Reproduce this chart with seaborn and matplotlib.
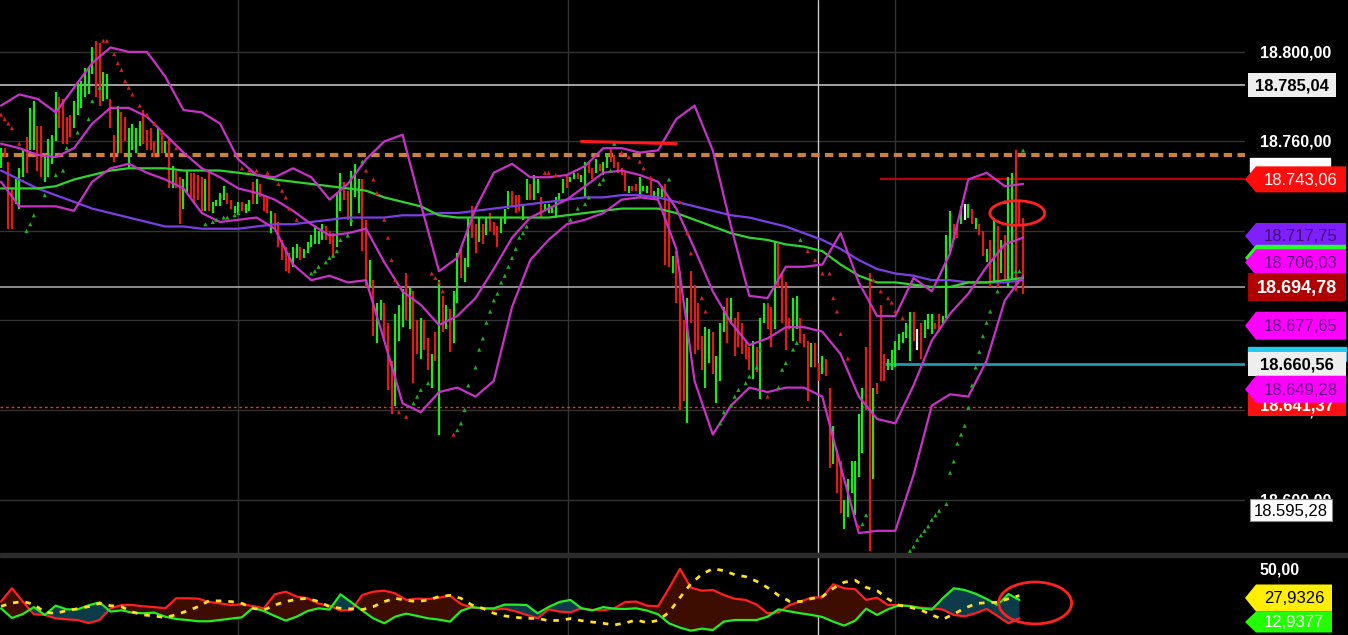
import numpy as np
import matplotlib
matplotlib.use("Agg")
import matplotlib.pyplot as plt
import seaborn as sns
from matplotlib.patches import Polygon, Rectangle, Ellipse

# ---------------- price bars ----------------
bar_high = [18757,18757,18751,18739,18743,18748,18756,18762,18775,18778,
            18767,18767,18754,18761,18763,18782,18780,18779,18771,18772,
            18778,18786,18787,18793,18793,18802,18805,18804,18791,18790,
            18779,18763,18776,18773,18771,18766,18768,18766,18769,18774,
            18765,18766,18760,18766,18765,18760,18761,18749,18747,18744,
            18743,18747,18746,18746,18745,18744,
            18743,18747,18733,18734,18737,18740,18737,18734,18731,18733,
            18733,18732,18734,18742,18743,18741,18736,18735,18729,18728,
            18724,18716,18713,18710,18713,18714,18713,18712,18715,18718,
            18722,18720,18723,18722,18720,18719,18737,18746,18742,18738,
            18747,18750,18743,18743,18725,18707,18698,18688,18689,18688,
            18679,18662,18683,18687,18694,18701,18695,18693,
            18680,18681,18680,18672,18665,18675,18698,18691,18687,18685,
            18693,18710,18713,18708,18726,18731,18723,18726,18723,18726,
            18728,18724,18722,18726,18730,18738,18738,18736,18736,18732,
            18743,18741,18745,18743,18735,18732,18732,18731,18735,18737,
            18743,18745,18744,18746,18746,18745,18751,18751,18748,18752,
            18750,18751,18755,18757,18754,18751,18748,
            18747,18740,18740,18741,18744,18740,18740,18743,18738,18739,
            18740,18741,18734,18709,18711,18702,18680,18690,18702,18696,
            18688,18673,18677,18676,18675,18664,18679,18686,18690,18690,
            18681,18684,18679,18671,18668,18671,18668,18681,18688,18688,
            18686,18715,18714,18701,18697,18681,18690,18691,18681,18674,
            18671,18670,18670,18661,
            18664,18663,18650,18633,18622,18617,18600,18609,18617,18617,
            18638,18650,18668,18701,18650,18652,18687,18665,18663,18667,
            18671,18674,18675,18679,18684,18684,18676,18679,18680,18683,
            18683,18679,18683,18682,18718,18729,18723,18722,18731,18732,
            18732,18730,18726,18723,18720,18712,18716,18726,18722,18716,
            18718,18744,18746,18756,18734,18726]
bar_low = [18748,18753,18721,18721,18732,18730,18744,18746,18756,18756,
           18747,18744,18742,18744,18750,18760,18766,18759,18759,18762,
           18766,18772,18775,18780,18781,18790,18780,18776,18778,18779,
           18766,18751,18755,18755,18760,18748,18756,18755,18758,18759,
           18756,18756,18753,18755,18755,18755,18739,18739,18739,18723,
           18730,18737,18735,18732,18734,18729,
           18729,18729,18728,18731,18731,18734,18732,18730,18728,18728,
           18729,18728,18729,18732,18732,18735,18729,18728,18719,18721,
           18713,18707,18702,18701,18704,18708,18707,18708,18710,18713,
           18714,18714,18716,18716,18714,18708,18713,18729,18734,18725,
           18722,18735,18728,18711,18695,18695,18673,18670,18680,18671,
           18649,18638,18642,18671,18677,18680,18676,18652,
           18665,18663,18667,18658,18650,18662,18629,18675,18676,18666,
           18670,18688,18699,18697,18704,18717,18710,18715,18714,18718,
           18720,18718,18713,18719,18723,18730,18731,18728,18729,18725,
           18734,18734,18734,18737,18726,18729,18728,18728,18726,18734,
           18737,18739,18742,18743,18743,18742,18735,18746,18743,18746,
           18747,18745,18748,18751,18748,18746,18745,
           18738,18737,18738,18738,18735,18738,18737,18735,18734,18734,
           18735,18705,18704,18701,18688,18640,18644,18634,18679,18665,
           18667,18658,18650,18661,18656,18643,18653,18675,18670,18679,
           18664,18668,18665,18663,18658,18654,18657,18645,18679,18676,
           18668,18676,18695,18679,18667,18676,18671,18676,18670,18668,
           18644,18659,18659,18653,
           18656,18655,18614,18616,18603,18594,18587,18592,18603,18593,
           18610,18621,18640,18577,18609,18647,18653,18653,18658,18658,
           18659,18667,18670,18672,18662,18671,18667,18663,18672,18676,
           18674,18676,18675,18679,18681,18710,18716,18717,18723,18725,
           18726,18723,18721,18718,18709,18706,18695,18697,18695,18701,
           18698,18695,18698,18693,18723,18692]
bar_dir = ("GRRRGGGRGG" "RRGGGGRRRR" "GGGGGGRRGG" "RRGRRGGGGR" "RRRGRGRGRR"
           "GGRRRRGRGG" "GGRRGGRGGR" "GRRRGRRRRR" "GGRGGGGGGR" "RRGGRRGGGR"
           "RGRGGRRRGG" "GRGRRGRRGR" "GRGRGGRGGR" "RGRGRRRGGG" "RRRGGRGGRG"
           "GGGGGRGGRG" "GRRGRGGRRR" "RRGRRGGGRG" "GGRRGRRRGR" "RRRGGRGGGR"
           "GRRRRRGRGG" "RRGRRRRGGR" "RRGRRGRRGR" "RGGGGGGRRG" "RRRGGGGGGG"
           "RWRGGGRRGG" "GRRGWGRGRR" "GRGRGRGGRR" "R")

# ---------------- overlays sampled every 5 bars ----------------
band_idx = np.arange(0, 281, 5)
bb_upper = [18776,18781,18779,18773,18784,18795,18802,18800,18800,18789,
            18774,18773,18768,18752,18745,18744,18748,18744,18734,18741,
            18752,18760,18763,18732,18702,18708,18730,18746,18750,18744,
            18744,18745,18749,18757,18757,18755,18756,18770,18776,18756,
            18722,18691,18690,18704,18704,18705,18719,18697,18682,18682,
            18699,18693,18710,18743,18746,18740,18741]
bb_middle = [18759,18757,18754,18753,18757,18768,18775,18775,18771,18763,
             18755,18748,18744,18739,18737,18734,18729,18723,18718,18719,
             18721,18706,18693,18687,18678,18682,18690,18703,18717,18726,
             18730,18734,18740,18746,18747,18745,18742,18730,18712,18693,
             18679,18669,18672,18677,18677,18675,18665,18646,18636,18634,
             18651,18671,18683,18692,18704,18714,18717]
bb_lower = [18742,18731,18731,18731,18729,18742,18748,18750,18746,18743,
            18739,18728,18724,18725,18726,18721,18705,18698,18700,18697,
            18698,18671,18643,18639,18648,18650,18646,18653,18686,18707,
            18716,18723,18725,18728,18734,18735,18734,18712,18653,18629,
            18642,18650,18648,18650,18650,18646,18615,18585,18586,18586,
            18611,18642,18647,18646,18662,18689,18700]
ma_green = [18739,18739,18739,18740,18743,18745,18747,18748,18748,18748,
            18747,18747,18747,18746,18745,18743,18742,18741,18740,18739,
            18738,18735,18733,18731,18727,18726,18726,18726,18726,18726,
            18726,18727,18728,18729,18730,18730,18730,18728,18725,18722,
            18719,18717,18716,18714,18713,18711,18705,18700,18697,18697,
            18696,18695,18695,18697,18697,18698,18699]
ma_purple = [18747,18743,18739,18736,18733,18730,18728,18726,18724,18722,
             18722,18721,18721,18721,18722,18723,18723,18724,18725,18726,
             18726,18726,18727,18727,18728,18728,18729,18730,18731,18732,
             18733,18734,18735,18735,18736,18736,18735,18733,18731,18729,
             18727,18726,18724,18722,18719,18716,18712,18707,18703,18701,
             18700,18698,18698,18697,18697,18697,18698]

# ---------------- parabolic SAR dots ----------------
sar_red_idx = [0,1,2,3,5, 28,29,31,32,33,34,35,36,38,40,42,44,46,48,
               66,68,70,73,76,77,78,79,81, 100,102,103,105,106,107,108,109,111,
               118,119,120,121,124, 149,150,152,
               170,172,175,176,178,186,188,189,192,193,210,
               221,223,225,227,228,229,230,232,235, 239,241,243,244,245,247]
sar_red = [18772,18770,18768,18766,18759, 18805,18805,18799,18795,18792,18787,18784,18781,18776,18772,18768,18764,18760,18757,
           18748,18747,18747,18746,18741,18738,18735,18730,18725, 18747,18743,18737,18725,18717,18707,18698,18639,18637,
           18701,18699,18697,18693,18629, 18746,18746,18745,
           18755,18753,18751,18748,18744,18733,18719,18710,18690,18684,18646,
           18711,18707,18701,18701,18690,18684,18674,18663,18588, 18698,18693,18690,18688,18684,18681]
sar_grn_idx = [7,8,9,12,15,17,18,21,24,25,27, 56,58,59,61,62,64,65,
               85,86,87,89,90,91,92,93,95,96,99, 113,114,115,117,
               125,126,127,128,130,131,132,133,134,135,136,137,138,139,140,141,142,143,144,
               156,158,160,161,164,165,167,168, 183,
               197,198,200,201,202,204,205,207,208, 213,214,215,217,218,219, 236,237,
               249,250,251,252,253,254,255,256,257,259,260,261,262,263,264,265,266,267,268,269,270,271,273,275,278,279,280]
sar_grn = [18720,18723,18727,18736,18745,18747,18757,18764,18770,18778,18784, 18723,18724,18725,18726,18726,18727,18728,
           18701,18702,18704,18706,18708,18709,18711,18716,18718,18725,18751, 18643,18646,18649,18652,
           18631,18634,18640,18651,18659,18667,18672,18679,18684,18689,18692,18697,18700,18704,18708,18712,18717,18719,18722,
           18725,18730,18732,18735,18741,18743,18747,18759, 18743,
           18634,18639,18642,18646,18649,18652,18655,18659,18667, 18650,18658,18661,18667,18670,18716, 18589,18593,
           18577,18579,18582,18584,18586,18588,18591,18593,18595,18598,18612,18617,18625,18629,18633,18641,18651,18659,18666,18673,18679,18684,18693,18733,18702,18702,18756]

# ---------------- DMI / ADX panel (every 3 bars) ----------------
dmi_idx = np.arange(0, 280, 3)
dmi_minus = [25.1,35.6,25.1,15.1,14.6,11.9,11.1,10.6,8.2,10.6,
             19.8,22.4,22.4,21.4,20.8,19.8,27.7,27.7,27.4,24.8,
             23.7,22.4,22.9,21.6,19.8,30.8,32.9,29.0,27.7,23.5,
             21.9,18.0,18.5,30.3,32.9,33.7,31.6,26.4,27.4,27.1,
             28.2,29.8,23.2,20.3,19.8,18.8,19.5,17.4,14.6,11.9,
             19.0,17.2,16.6,19.8,18.5,18.2,19.8,24.8,25.1,21.9,
             21.4,35.6,50.8,36.1,33.7,34.2,30.3,27.4,26.4,22.7,
             15.9,16.6,22.4,25.1,28.2,28.5,38.7,35.6,34.8,26.4,
             28.2,22.4,22.4,21.4,20.3,19.8,18.8,14.6,13.5,15.9,
             19.3,13.8,8.0,11.9]
dmi_plus = [19.8,12.2,15.3,20.8,14.6,21.9,19.0,19.0,22.2,24.5,
            17.2,18.2,16.4,15.9,16.4,13.2,11.4,10.6,9.6,9.6,
            10.6,11.7,12.7,20.3,17.7,13.8,10.1,13.2,17.7,19.8,
            18.8,30.8,24.5,18.0,11.9,8.0,13.2,15.6,13.8,11.9,
            10.9,9.3,17.7,20.8,19.8,19.8,22.7,22.7,22.4,15.9,
            20.8,24.8,26.4,19.8,18.2,20.8,19.5,19.3,19.8,18.0,
            15.1,8.0,4.6,2.2,3.8,2.7,9.3,10.6,10.6,10.6,
            13.2,19.0,17.4,15.9,14.6,13.0,9.3,6.2,10.1,19.5,
            14.6,19.0,22.2,21.6,19.8,18.8,27.7,35.6,34.2,31.3,
            27.2,22.4,31.1,26.4]
adx = [21.4,24.0,25.1,23.0,16.6,15.9,18.0,19.5,21.1,23.7,
       21.9,21.1,16.9,14.6,13.8,12.5,14.8,17.7,21.1,25.8,
       25.6,25.1,23.7,19.8,18.5,22.4,25.1,26.9,27.7,25.1,
       21.1,19.8,19.3,18.8,21.1,25.1,27.7,26.1,25.1,26.4,
       29.0,30.0,27.7,22.4,19.8,15.9,13.8,12.7,11.9,11.9,
       10.1,10.3,11.7,10.1,9.0,8.0,6.7,8.2,10.6,8.5,
       10.3,16.6,28.2,39.2,46.6,51.0,49.5,46.3,44.7,41.1,
       36.1,30.0,25.3,25.1,27.4,29.0,35.6,40.3,41.9,36.3,
       33.7,27.2,22.2,20.6,18.5,14.6,11.1,15.3,19.8,23.5,
       24.3,24.5,27.4,29.8]

# ---------------- levels & labels ----------------
price_ticks = [18600, 18640, 18680, 18720, 18760, 18800]
level_white = 18785.04
level_orange = 18754.0
level_red = 18743.06
last_close = 18694.78
level_cyan = 18660.56
level_dotted = 18641.37
tag_purple = 18717.75
tag_green = 18708.0
tag_mag1 = 18706.03
tag_mag2 = 18677.65
tag_mag3 = 18649.28
tag_low = 18595.28
adx_last = 27.9326
pdi_last = 12.9377
adx_tick = 50.0
session_lines = [64.9, 155.3, 244.9]
cursor_line = 223.8
red_level_start = 240.8
cyan_level_start = 242.2
trend_idx = [159, 185]
trend_price = [18760, 18759]

# ---------------- figure ----------------
sns.set_theme(style="dark")
plt.rcParams['font.family'] = ['Liberation Sans', 'DejaVu Sans']
W_PX, H_PX = 1348, 635
fig = plt.figure(figsize=(W_PX / 100, H_PX / 100), dpi=100, facecolor='black')

ax = fig.add_axes([0, 82 / H_PX, 1245 / W_PX, 553 / H_PX])
ax2 = fig.add_axes([0, 0, 1245 / W_PX, 78 / H_PX])
for a in (ax, ax2):
    a.set_facecolor('black')
    for s in a.spines.values():
        s.set_visible(False)
    a.tick_params(left=False, bottom=False, labelleft=False, labelbottom=False)
    a.grid(False)

XL = (-0.27, 340.8)
ax.set_xlim(*XL)
ax.set_ylim(18576.1, 18823.2)
ax2.set_xlim(*XL)
ax2.set_ylim(-1.2, 60.2)

# grid
for p in price_ticks:
    ax.axhline(p, color='#333333', lw=1, zorder=0)
for a in (ax, ax2):
    for s in session_lines:
        a.axvline(s, color='#333333', lw=1, zorder=0)
    a.axvline(cursor_line, color='#c8c8c8', lw=1, zorder=0.5)

# levels
ax.axhline(level_white, color='#cfcfcf', lw=1.1, zorder=1)
ax.axhline(last_close, color='#b4b4b4', lw=1.1, zorder=1)
ax.axhline(level_orange, color='#c8823f', lw=3, ls=(0, (2.0, 1.3)), zorder=1)
ax.axhline(level_dotted, color='#ff2a2a', lw=1, ls=(0, (2, 2)), zorder=1)
ax.hlines(level_red, red_level_start, XL[1], color='#c00000', lw=1.5, zorder=1)
ax.hlines(level_cyan, cyan_level_start, XL[1], color='#1e9bb0', lw=2, zorder=1)

# bars
idx = np.arange(len(bar_high))
cmap = {'G': '#1ee61e', 'R': '#e01b1b', 'W': '#f0f0f0'}
cols = [cmap[c] for c in bar_dir]
ax.vlines(idx, bar_low, bar_high, colors=cols, lw=1.6, zorder=3)

# bands & averages
for vals, c in [(ma_purple, '#7b3fe4'), (ma_green, '#2fd42f'),
                (bb_upper, '#c832c8'), (bb_middle, '#c832c8'), (bb_lower, '#c832c8')]:
    sns.lineplot(x=band_idx, y=vals, ax=ax, color=c, lw=1.6, errorbar=None, zorder=4)

# SAR
sns.scatterplot(x=sar_red_idx, y=sar_red, ax=ax, marker='^', s=9, color='#d42020',
                edgecolor='none', zorder=5)
sns.scatterplot(x=sar_grn_idx, y=sar_grn, ax=ax, marker='^', s=9, color='#22b022',
                edgecolor='none', zorder=5)

# hand-drawn annotations
ax.plot(trend_idx, trend_price, color='#ff1a1a', lw=2.2, zorder=6)
ax.add_patch(Ellipse((278.4, 18728), 15, 11, fill=False, ec='#ff2020', lw=2, zorder=6))

# lower panel
mn = np.array(dmi_minus); pl = np.array(dmi_plus)
ax2.fill_between(dmi_idx, mn, pl, where=mn >= pl, interpolate=True, color='#3d0d02', lw=0, zorder=1)
ax2.fill_between(dmi_idx, mn, pl, where=pl > mn, interpolate=True, color='#0c3c4a', lw=0, zorder=1)
sns.lineplot(x=dmi_idx, y=dmi_minus, ax=ax2, color='#ff2020', lw=1.6, errorbar=None, zorder=3)
sns.lineplot(x=dmi_idx, y=dmi_plus, ax=ax2, color='#22ee22', lw=1.6, errorbar=None, zorder=3)
sns.lineplot(x=dmi_idx, y=adx, ax=ax2, color='#ffe020', lw=2, errorbar=None, zorder=4)
ax2.lines[-1].set_dashes([2, 2.5])
ax2.add_patch(Ellipse((283.3, 24), 20, 33, fill=False, ec='#ff2020', lw=2, zorder=6))

# ---------------- overlay for right-hand labels ----------------
ov = fig.add_axes([0, 0, 1, 1], zorder=10)
ov.set_xlim(0, W_PX)
ov.set_ylim(H_PX, 0)
ov.axis('off')
ov.patch.set_alpha(0)


def ypix(a, v):
    return H_PX - a.transData.transform((0, v))[1]


def eu(v, nd=2):
    s = f"{v:,.{nd}f}"
    return s.replace(',', '#').replace('.', ',').replace('#', '.')


_z = [10]


def tag(y, text, face, tcolor, arrow=True, x0=1245, x1=1346, h=26, bold=False, fs=12, ec='none'):
    _z[0] += 2
    if arrow:
        pts = [(x0, y), (x0 + 11, y - h / 2), (x1, y - h / 2), (x1, y + h / 2), (x0 + 11, y + h / 2)]
        cx = (x0 + 11 + x1) / 2
    else:
        pts = [(x0, y - h / 2), (x1, y - h / 2), (x1, y + h / 2), (x0, y + h / 2)]
        cx = (x0 + x1) / 2
    ov.add_patch(Polygon(pts, closed=True, fc=face, ec=ec, lw=0.8, zorder=_z[0]))
    if text:
        ov.text(cx, y + 1, text, color=tcolor, ha='center', va='center', fontsize=fs,
                fontweight='bold' if bold else 'normal', zorder=_z[0] + 1)


# separator band
ov.add_patch(Rectangle((0, 553), W_PX, 4, color='#2c2c2c', zorder=1))

# tick labels (drawn below the tags)
for p in price_ticks:
    ov.text(1296, ypix(ax, p) + 1, eu(p), color='white', ha='center', va='center',
            fontsize=11.5, fontweight='bold', zorder=2)
ov.text(1280, ypix(ax2, adx_tick), eu(adx_tick), color='white', ha='center', va='center',
        fontsize=11.5, fontweight='bold', zorder=2)

# price tags
tag(ypix(ax, level_white), eu(level_white), '#eeeeee', 'black', arrow=False, x0=1248, x1=1336, h=24, bold=True)
ov.add_patch(Rectangle((1250, ypix(ax, level_orange) + 3), 80, 14, color='white', zorder=11))
tag(ypix(ax, level_red), eu(level_red), '#ff0d0d', 'white', h=26)
tag(ypix(ax, tag_purple), eu(tag_purple), '#7f1fff', '#40106e', h=26)
tag(ypix(ax, tag_green), '', '#22ff22', 'white', h=26)
tag(ypix(ax, tag_mag1), eu(tag_mag1), '#ff00ff', '#5a0a7a', h=26)
tag(ypix(ax, last_close), eu(last_close), '#b00000', 'white', arrow=False, x0=1248, x1=1346, h=28, bold=True, fs=13)
tag(ypix(ax, tag_mag2), eu(tag_mag2), '#ff00ff', '#5a0a7a', h=28)
_z[0] += 2
ov.add_patch(Rectangle((1248, ypix(ax, level_cyan) - 17), 98, 14, color='#22ccee', zorder=_z[0]))
tag(ypix(ax, level_cyan), eu(level_cyan), '#eeeeee', 'black', arrow=False, x0=1248, x1=1346, h=24, bold=True)
tag(ypix(ax, level_dotted) - 2, eu(level_dotted), '#ff1010', 'white', arrow=False, x0=1248, x1=1346, h=22, bold=True)
tag(ypix(ax, tag_mag3), eu(tag_mag3), '#ff00ff', '#5a0a7a', h=27)
tag(ypix(ax, tag_low), eu(tag_low), 'white', 'black', arrow=False, x0=1250, x1=1332, h=22, ec='#888888')

# lower panel tags
y_adx = ypix(ax2, adx_last)
tag(y_adx, eu(adx_last, 4), '#ffee00', 'black', x1=1332, h=27)
tag(y_adx + 24, eu(pdi_last, 4), '#22ff00', 'white', x1=1332, h=21)

fig.savefig('out.png', dpi=100, facecolor='black')
